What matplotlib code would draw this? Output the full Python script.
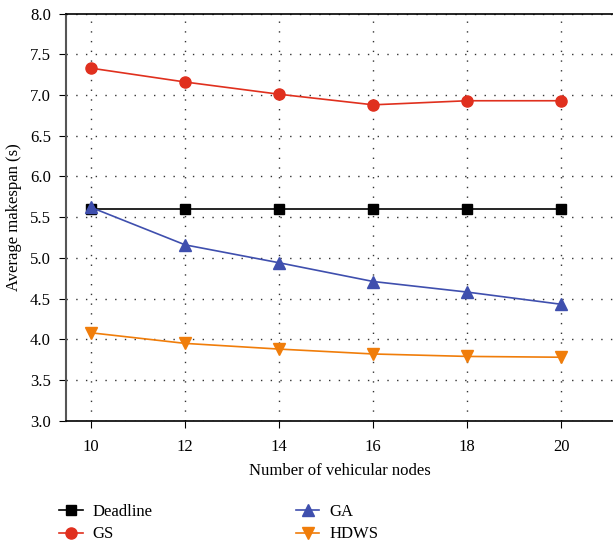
import matplotlib
matplotlib.use('Agg')
import matplotlib.pyplot as plt

plt.rcParams['font.family'] = ['Liberation Serif', 'DejaVu Serif']

# データ
nodes = [10, 12, 14, 16, 18, 20]
deadline = [5.6, 5.6, 5.6, 5.6, 5.6, 5.6]
gs = [7.33, 7.16, 7.01, 6.88, 6.93, 6.93]
ga = [5.62, 5.16, 4.94, 4.71, 4.58, 4.43]
hdws = [4.08, 3.95, 3.88, 3.82, 3.79, 3.78]

fig = plt.figure(figsize=(6.13, 5.45), dpi=100)
ax = fig.add_axes([0.108, 0.228, 0.892, 0.747])

ax.plot(nodes, deadline, color='black', marker='s', markersize=6.5, lw=1.2, label='Deadline')
ax.plot(nodes, gs, color='#E0301E', marker='o', markersize=8, lw=1.2, label='GS')
ax.plot(nodes, ga, color='#3F4FAE', marker='^', markersize=9, lw=1.2, label='GA')
ax.plot(nodes, hdws, color='#F07D0A', marker='v', markersize=9, lw=1.2, label='HDWS')

ax.set_xlim(9.47, 21.1)
ax.set_ylim(3.0, 8.0)
ax.set_xticks(nodes)
ax.set_yticks([3.0 + 0.5 * i for i in range(11)])
ax.set_yticklabels([f'{3.0 + 0.5 * i:.1f}' for i in range(11)])
ax.tick_params(direction='out', length=5, labelsize=12)
ax.tick_params(axis='x', pad=8)
ax.tick_params(axis='y', pad=6)
ax.grid(True, linestyle=(0, (1, 6)), color='#333333', linewidth=1.0)

ax.spines['right'].set_visible(False)
ax.spines['left'].set_color('#555555')
ax.spines['left'].set_linewidth(1.5)
ax.spines['bottom'].set_linewidth(1.2)
ax.spines['top'].set_linewidth(1.2)

ax.set_xlabel('Number of vehicular nodes', fontsize=12, labelpad=6)
ax.set_ylabel('Average makespan (s)', fontsize=12, labelpad=6)

ax.legend(loc='upper left', bbox_to_anchor=(-0.04, -0.167), ncol=2, frameon=False,
          fontsize=12, columnspacing=8.6, handlelength=1.4, handletextpad=0.6,
          labelspacing=0.4)

fig.savefig('out.png', dpi=100)
